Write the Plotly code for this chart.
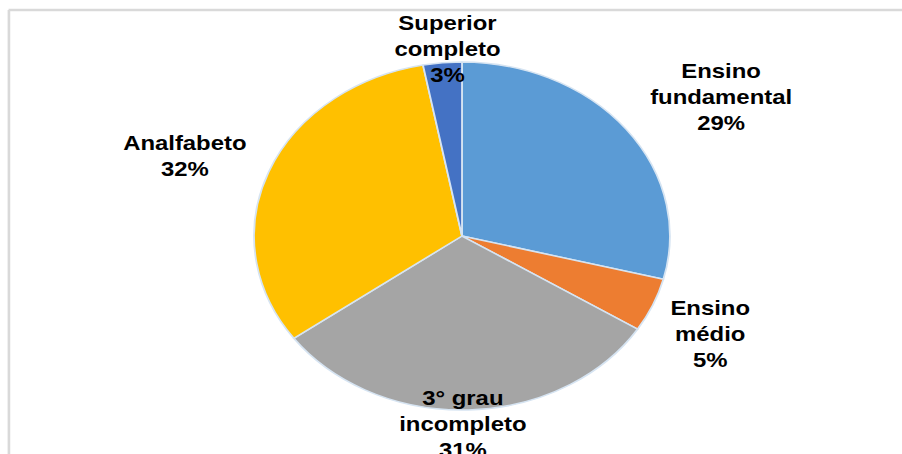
import plotly.graph_objects as go

# ---- data ----
categories = ["Ensino fundamental", "Ensino médio", "3° grau incompleto", "Analfabeto", "Superior completo"]
label_lines = ["Ensino<br>fundamental", "Ensino<br>médio", "3° grau<br>incompleto", "Analfabeto", "Superior<br>completo"]
values = [29, 5, 31, 32, 3]
colors = ["#5B9BD5", "#ED7D31", "#A5A5A5", "#FFC000", "#4472C4"]

# ---- layout geometry (original image was stretched horizontally) ----
STRETCH = 1.195
W, H = 902 / STRETCH, 454
label_pos = [(0.799, 0.7863), (0.787, 0.2643), (0.513, 0.066), (0.204, 0.6564), (0.4955, 0.892)]

fig = go.Figure()
fig.add_trace(go.Pie(
    labels=categories,
    values=values,
    sort=False,
    direction="clockwise",
    rotation=0,
    textinfo="none",
    hoverinfo="label+percent",
    marker=dict(colors=colors, line=dict(color="#D6E4F2", width=1.5)),
    domain=dict(x=[0.2816, 0.7425], y=[0.0969, 0.8634]),
    showlegend=False,
))

total = sum(values)
for lab, v, (px, py) in zip(label_lines, values, label_pos):
    fig.add_annotation(
        x=px, y=py, xref="paper", yref="paper",
        text=f"<b>{lab}<br>{round(100 * v / total)}%</b>",
        showarrow=False, xanchor="center", yanchor="middle", align="center",
        font=dict(family="Liberation Sans, Arial, sans-serif", size=20, color="#000000"),
    )

# chart frame (top and left edges visible)
fig.add_shape(type="line", xref="paper", yref="paper", x0=0.0095, x1=1.0, y0=1 - 10 / H, y1=1 - 10 / H,
              line=dict(color="#D9D9D9", width=2.5))
fig.add_shape(type="line", xref="paper", yref="paper", x0=0.0099, x1=0.0099, y0=1 - 10 / H, y1=0,
              line=dict(color="#D9D9D9", width=2.2))

fig.update_layout(
    width=W, height=H,
    margin=dict(l=0, r=0, t=0, b=0),
    paper_bgcolor="white", plot_bgcolor="white",
)

post = (
    "document.body.style.margin='0';"
    "var gd=document.getElementById('{plot_id}');"
    f"gd.style.transformOrigin='0 0'; gd.style.transform='scaleX({STRETCH})';"
)
fig.write_html("out.html", post_script=post, config={"displayModeBar": False})
